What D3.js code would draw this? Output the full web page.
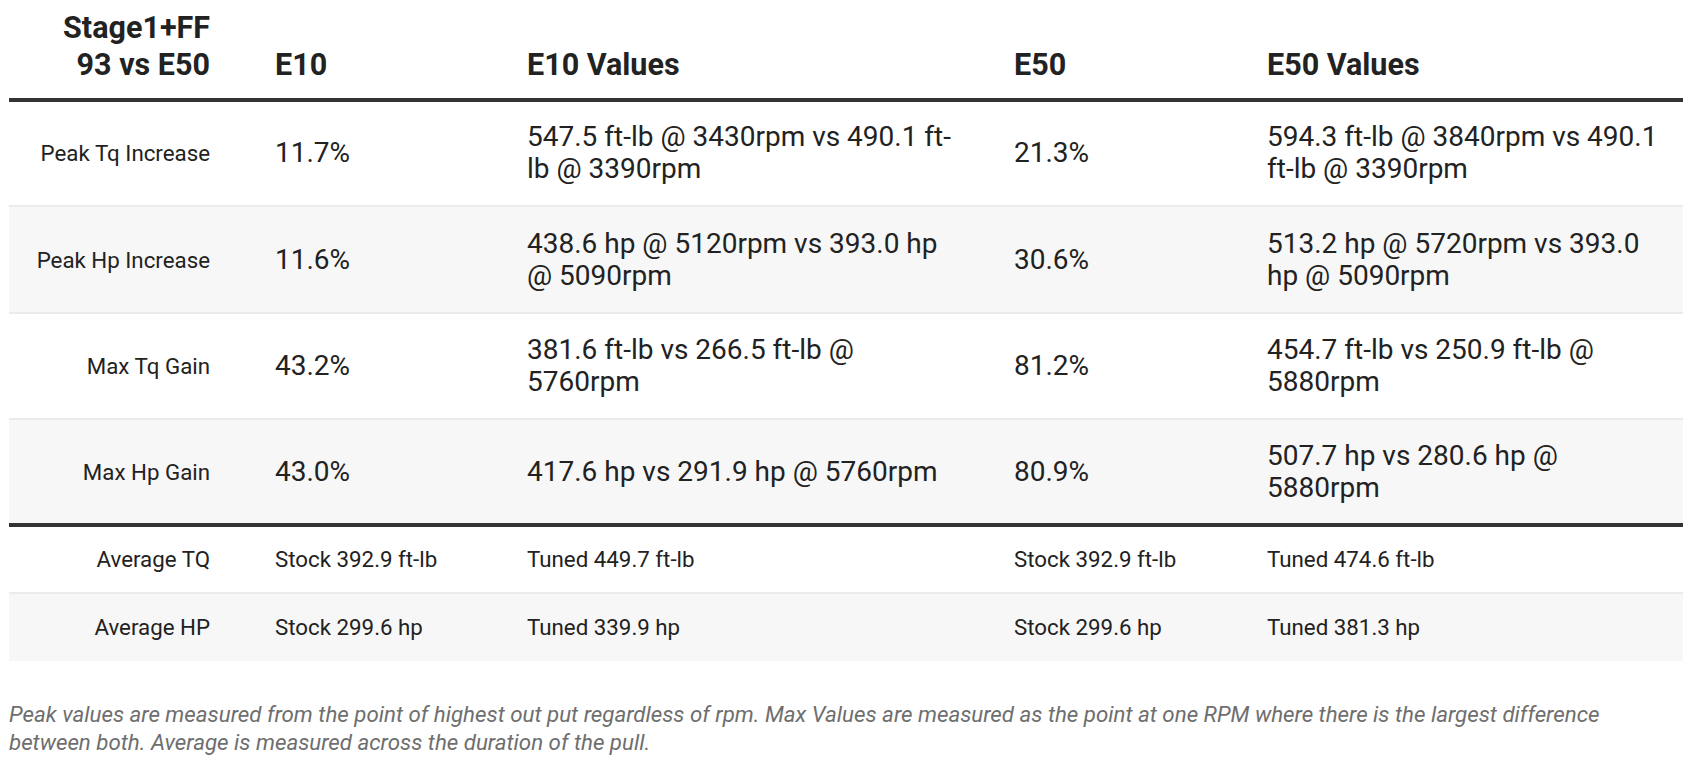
<!DOCTYPE html>
<html><head><meta charset="utf-8">
<script src="https://cdn.jsdelivr.net/npm/d3@7"></script>
<style>
body{margin:0;background:#fff;font-family:Roboto,sans-serif;color:#222;}
#c{position:relative;width:1692px;height:766px;}
.cell{position:absolute;display:flex;align-items:center;box-sizing:border-box;line-height:32px;}
</style></head><body><div id="c"></div>
<script>
const headers = ["Stage1+FF<br>93 vs E50","E10","E10 Values","E50","E50 Values"];
const rowLabels = ["Peak Tq Increase","Peak Hp Increase","Max Tq Gain","Max Hp Gain","Average TQ","Average HP"];
const e10 = ["11.7%","11.6%","43.2%","43.0%","Stock 392.9 ft-lb","Stock 299.6 hp"];
const e10Values = ["547.5 ft-lb @ 3430rpm vs 490.1 ft-lb @ 3390rpm","438.6 hp @ 5120rpm vs 393.0 hp @ 5090rpm","381.6 ft-lb vs 266.5 ft-lb @ 5760rpm","417.6 hp vs 291.9 hp @ 5760rpm","Tuned 449.7 ft-lb","Tuned 339.9 hp"];
const e50 = ["21.3%","30.6%","81.2%","80.9%","Stock 392.9 ft-lb","Stock 299.6 hp"];
const e50Values = ["594.3 ft-lb @ 3840rpm vs 490.1 ft-lb @ 3390rpm","513.2 hp @ 5720rpm vs 393.0 hp @ 5090rpm","454.7 ft-lb vs 250.9 ft-lb @ 5880rpm","507.7 hp vs 280.6 hp @ 5880rpm","Tuned 474.6 ft-lb","Tuned 381.3 hp"];
const footnote = "Peak values are measured from the point of highest out put regardless of rpm. Max Values are measured as the point at one RPM where there is the largest difference between both. Average is measured across the duration of the pull.";

const c = d3.select("#c");
const L = 9, R = 1683;
const colX = [9, 275, 527, 1014, 1267];
const colW = [201, 240, 430, 240, 400];
const rowTops = [100, 206, 313, 419, 525, 593, 661];

headers.forEach((h,i)=>{
  c.append("div").attr("class","cell").style("left",colX[i]+"px").style("width",colW[i]+"px")
   .style("top","0px").style("height","100px").style("align-items","flex-end").style("padding-bottom","17px")
   .style("justify-content", i==0?"flex-end":"flex-start").style("text-align", i==0?"right":"left")
   .style("font-weight","700").style("font-size","30.5px").style("line-height","37px").html(h);
});
const rows = rowLabels.map((r,i)=>[r,e10[i],e10Values[i],e50[i],e50Values[i]]);
rows.forEach((row,ri)=>{
  const top = rowTops[ri], h = rowTops[ri+1]-top;
  c.append("div").style("position","absolute").style("left",L+"px").style("width",(R-L)+"px")
   .style("top",top+"px").style("height",h+"px").style("background", ri%2 ? "#f7f7f7" : "#fff");
  if (ri>0 && ri!=4) c.append("div").style("position","absolute").style("left",L+"px").style("width",(R-L)+"px")
   .style("top",(top-1)+"px").style("height","2px").style("background","#ebebeb");
  row.forEach((v,ci)=>{
    const big = ri<4 && ci>0;
    c.append("div").attr("class","cell").style("left",colX[ci]+"px").style("width",colW[ci]+"px")
     .style("top",top+"px").style("height",h+"px")
     .style("justify-content", ci==0?"flex-end":"flex-start").style("text-align", ci==0?"right":"left")
     .style("font-size", big?"28px":"22.3px").text(v);
  });
});
[100,525].forEach(y=>{
  c.append("div").style("position","absolute").style("left",L+"px").style("width",(R-L)+"px")
   .style("top",(y-2)+"px").style("height","4px").style("background","#333");
});
c.append("div").style("position","absolute").style("left","9px").style("width","1640px").style("top","700px")
 .style("font-size","22.3px").style("font-style","italic").style("color","#6e6e6e").style("line-height","28px").text(footnote);
</script></body></html>
